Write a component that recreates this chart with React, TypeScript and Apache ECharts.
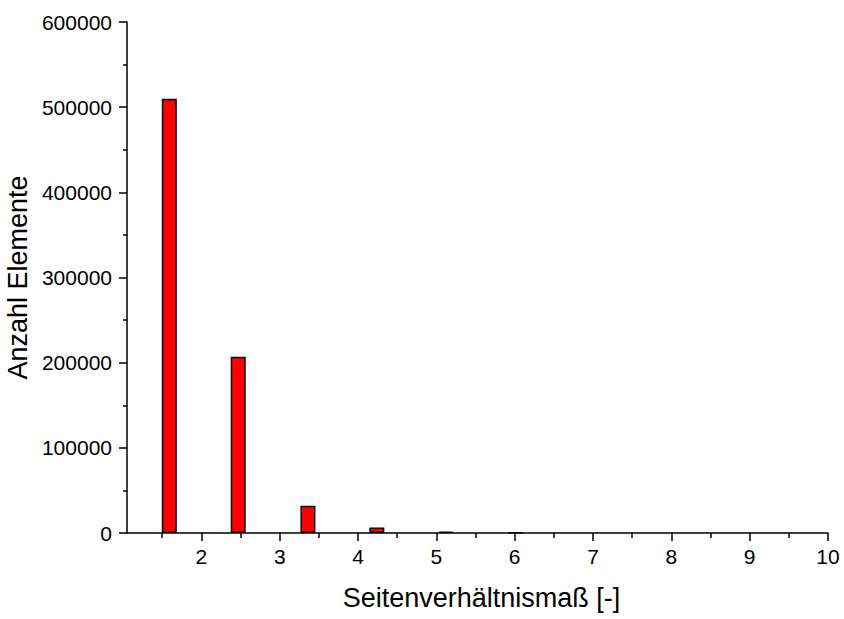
import React, { useEffect, useRef } from "react";
import * as echarts from "echarts";

const binCenters = [1.59, 2.47, 3.36, 4.24, 5.12, 6.01];
const counts = [510000, 207000, 32000, 6500, 1500, 500];
const xMajorTicks = [2, 3, 4, 5, 6, 7, 8, 9, 10];
const xMinorTicks = [1.5, 2.5, 3.5, 4.5, 5.5, 6.5, 7.5, 8.5, 9.5];
const xTitle = "Seitenverhältnismaß [-]";
const yTitle = "Anzahl Elemente";

const FONT = "Liberation Sans, Arial, sans-serif";

export default function App() {
  const ref = useRef<HTMLDivElement>(null);
  useEffect(() => {
    if (!ref.current) return;
    const chart = echarts.init(ref.current, null, { renderer: "svg" });
    const xMin = 1.05;
    const xMax = 10;
    chart.setOption({
      animation: false,
      backgroundColor: "#ffffff",
      grid: { left: 127, right: 16, top: 22, bottom: 86, containLabel: false, outerBoundsMode: "none" },
      xAxis: [
        {
          type: "value",
          min: xMin,
          max: xMax,
          position: "bottom",
          name: xTitle,
          nameLocation: "middle",
          nameGap: 51,
          nameTextStyle: { fontFamily: FONT, fontSize: 27, color: "#000", padding: [0, 0, 0, 8] },
          axisLine: { show: true, lineStyle: { color: "#000", width: 1.5 } },
          axisTick: {
            show: true,
            inside: false,
            length: 8,
            customValues: xMajorTicks,
            lineStyle: { color: "#000", width: 1.5 },
          },
          axisLabel: {
            customValues: xMajorTicks,
            margin: 13,
            fontFamily: FONT,
            fontSize: 21,
            color: "#000",
            formatter: (v: number) => String(v),
          },
          splitLine: { show: false },
        },
        {
          type: "value",
          min: xMin,
          max: xMax,
          position: "bottom",
          offset: 0,
          axisLine: { show: false },
          axisTick: {
            show: true,
            inside: false,
            length: 5,
            customValues: xMinorTicks,
            lineStyle: { color: "#000", width: 1.5 },
          },
          axisLabel: { show: false },
          splitLine: { show: false },
        },
      ],
      yAxis: {
        type: "value",
        min: 0,
        max: 600000,
        interval: 100000,
        name: yTitle,
        nameLocation: "middle",
        nameGap: 90,
        nameTextStyle: { fontFamily: FONT, fontSize: 27, color: "#000" },
        axisLine: { show: true, lineStyle: { color: "#000", width: 1.5 } },
        axisTick: { show: true, inside: false, length: 8, lineStyle: { color: "#000", width: 1.5 } },
        minorTick: { show: true, splitNumber: 2, length: 4, lineStyle: { color: "#000", width: 1.5 } },
        axisLabel: {
          margin: 15,
          fontFamily: FONT,
          fontSize: 21,
          color: "#000",
          formatter: (v: number) => String(v),
        },
        splitLine: { show: false },
        minorSplitLine: { show: false },
      },
      series: [
        {
          type: "bar",
          xAxisIndex: 0,
          barWidth: 15,
          data: binCenters.map((x, i) => [x, counts[i]]),
          itemStyle: { color: "#ff0000", borderColor: "#000", borderWidth: 1.5 },
        },
      ],
    });
    return () => chart.dispose();
  }, []);
  return (
    <div
      ref={ref}
      style={{ position: "absolute", left: 0, top: 0, width: 844, height: 619 }}
    />
  );
}
